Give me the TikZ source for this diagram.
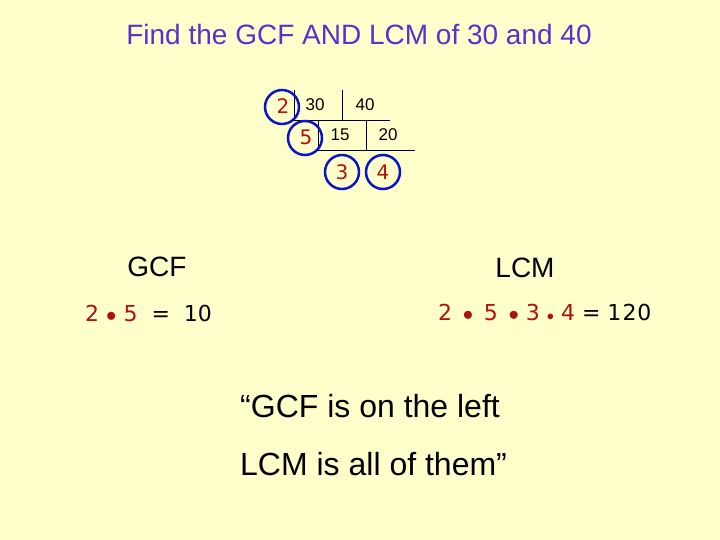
\documentclass[tikz,border=0pt]{standalone}
\usepackage{fontspec}
\setmainfont{Liberation Sans}
\newfontfamily\dv{DejaVu Sans}
\definecolor{bg}{HTML}{FFFFCC}
\definecolor{ttl}{HTML}{5533CC}
\definecolor{rd}{HTML}{B01010}
\definecolor{bl}{HTML}{0A14C8}
\begin{document}
\begin{tikzpicture}[x=1pt,y=-1pt,
  num/.style={font=\fontsize{17}{20}\selectfont},
  fac/.style={font=\dv\fontsize{20}{24}\selectfont,text=rd},
  ring/.style={draw=bl,line width=2.5pt,circle,minimum size=34pt,inner sep=0pt}]
\fill[bg] (0,0) rectangle (720,540);
\useasboundingbox (0,0) rectangle (720,540);
\node[font=\fontsize{28}{32}\selectfont,text=ttl] (title) at (359,34) {Find the GCF AND LCM of 30 and 40};
\draw (294,90) -- (294,120) (342,90) -- (342,120) (293,120) -- (390,120);
\draw (318,120) -- (318,150) (366,120) -- (366,150) (318,150) -- (415,150);
\node[num] (n30) at (315,105) {30};
\node[num] (n40) at (365,105) {40};
\node[num] (n15) at (340,135) {15};
\node[num] (n20) at (388,135) {20};
\node[fac] (f2) at (283,106) {2}; \node[ring] (c2) at (282,107) {};
\node[fac] (f5) at (306,137) {5}; \node[ring] (c5) at (305,138) {};
\node[fac] (f3) at (342,172) {3}; \node[ring] (c3) at (342,172) {};
\node[fac] (f4) at (383,172) {4}; \node[ring] (c4) at (383,172) {};
\node[font=\fontsize{28}{32}\selectfont] (gcf) at (157,267) {GCF};
\node[font=\fontsize{28}{32}\selectfont] (lcm) at (525,268) {LCM};
\node[font=\dv\fontsize{22}{26}\selectfont,anchor=west,text=rd,inner sep=0pt] (ge) at (85,313) {2 $\bullet$ 5 \ \textcolor{black}{= \ 10}};
\node[font=\dv\fontsize{22}{26}\selectfont,anchor=west,text=rd,inner sep=0pt] (le) at (438,312) {2 \,$\bullet$\, 5 \,$\bullet$ 3 {\fontsize{14}{14}\selectfont$\bullet$} 4 \textcolor{black}{= 1\kern1pt2\kern1pt0}};
\node[font=\fontsize{32}{36}\selectfont,anchor=west,inner sep=0pt] (q1) at (240,406) {“GCF is on the left};
\node[font=\fontsize{32}{36}\selectfont,anchor=west,inner sep=0pt] (q2) at (240,464) {LCM is all of them”};
\end{tikzpicture}
\end{document}
